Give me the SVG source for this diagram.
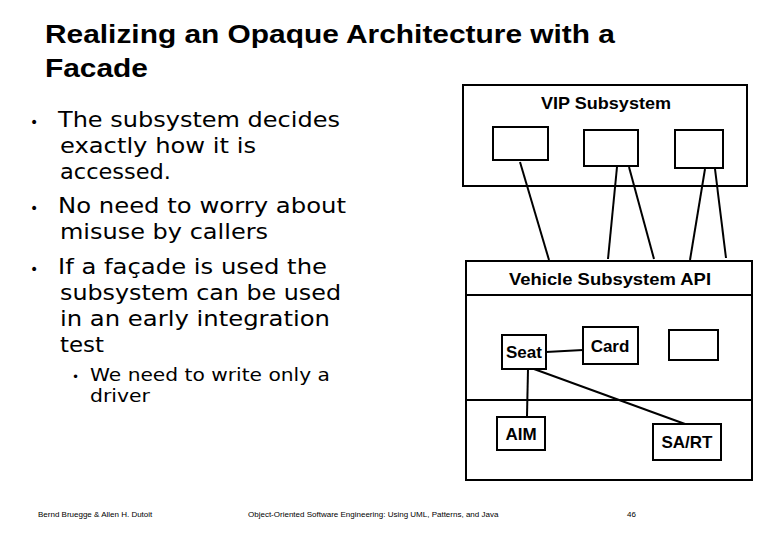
<svg xmlns="http://www.w3.org/2000/svg" width="780" height="540" viewBox="0 0 780 540">
<style>
.b{fill:#fff;stroke:#000;stroke-width:2}
.t{font-family:"Liberation Sans",Arial,sans-serif;font-weight:bold;font-size:17px;fill:#000}
.bl{font-family:"DejaVu Sans",Verdana,sans-serif;font-size:22px;fill:#000}
.f{font-family:"Liberation Sans",Arial,sans-serif;font-size:8px;fill:#000}
line{stroke:#000;stroke-width:2}
</style>
<rect width="780" height="540" fill="#fff"/>
<g id="title"><text font-family="Liberation Sans,Arial,sans-serif" font-weight="bold" font-size="25" x="45" y="43" textLength="570" lengthAdjust="spacingAndGlyphs">Realizing an Opaque Architecture with a</text><text font-family="Liberation Sans,Arial,sans-serif" font-weight="bold" font-size="25" x="45" y="77" textLength="103" lengthAdjust="spacingAndGlyphs">Facade</text></g>
<g id="bullets" class="bl" lengthAdjust="spacingAndGlyphs">
<text x="30" y="127" font-size="14">•</text><text x="58" y="127" textLength="282" lengthAdjust="spacingAndGlyphs">The subsystem decides</text>
<text x="60" y="153" textLength="196" lengthAdjust="spacingAndGlyphs">exactly how it is</text>
<text x="60" y="179" textLength="111" lengthAdjust="spacingAndGlyphs">accessed.</text>
<text x="30" y="213" font-size="14">•</text><text x="58" y="213" textLength="288" lengthAdjust="spacingAndGlyphs">No need to worry about</text>
<text x="60" y="239" textLength="208" lengthAdjust="spacingAndGlyphs">misuse by callers</text>
<text x="30" y="274" font-size="14">•</text><text x="58" y="274" textLength="269" lengthAdjust="spacingAndGlyphs">If a façade is used the</text>
<text x="60" y="300" textLength="281" lengthAdjust="spacingAndGlyphs">subsystem can be used</text>
<text x="60" y="326" textLength="270" lengthAdjust="spacingAndGlyphs">in an early integration</text>
<text x="60" y="352" textLength="44" lengthAdjust="spacingAndGlyphs">test</text>
<text x="72" y="381" font-size="12">•</text><text x="90" y="381" font-size="18" textLength="240" lengthAdjust="spacingAndGlyphs">We need to write only a</text>
<text x="90" y="402" font-size="18" textLength="60" lengthAdjust="spacingAndGlyphs">driver</text>
</g>
<g id="vip"><rect class="b" x="463" y="85" width="284" height="101"/><text class="t" x="541" y="109" textLength="130" lengthAdjust="spacingAndGlyphs">VIP Subsystem</text></g>
<g id="v1"><rect class="b" x="493" y="127" width="55" height="33"/></g>
<g id="v2"><rect class="b" x="584" y="130" width="54" height="36"/></g>
<g id="v3"><rect class="b" x="675" y="130" width="48" height="38"/></g>
<g id="api"><rect class="b" x="466" y="261" width="286" height="219"/><line x1="466" y1="295" x2="752" y2="295"/><line x1="466" y1="400" x2="752" y2="400"/><text class="t" x="509" y="285" textLength="202" lengthAdjust="spacingAndGlyphs">Vehicle  Subsystem API</text></g>
<g id="seat"><rect class="b" x="502" y="335" width="44" height="34"/><text class="t" x="524" y="358" text-anchor="middle">Seat</text></g>
<g id="card"><rect class="b" x="583" y="327" width="55" height="37"/><text class="t" x="610" y="352" text-anchor="middle">Card</text></g>
<g id="empty"><rect class="b" x="669" y="330" width="49" height="30"/></g>
<g id="aim"><rect class="b" x="497" y="417" width="48" height="33"/><text class="t" x="521" y="440" text-anchor="middle">AIM</text></g>
<g id="sart"><rect class="b" x="653" y="424" width="68" height="36"/><text class="t" x="687" y="448" text-anchor="middle">SA/RT</text></g>
<g id="connectors">
<line x1="520" y1="162" x2="549" y2="260"/>
<line x1="617" y1="167" x2="608" y2="259"/>
<line x1="629" y1="167" x2="654" y2="259"/>
<line x1="705" y1="169" x2="690" y2="260"/>
<line x1="715" y1="169" x2="726" y2="258"/>
<line x1="546" y1="352" x2="583" y2="350"/>
<line x1="528" y1="369" x2="527" y2="416"/>
<line x1="534" y1="369" x2="685" y2="424"/>
</g>
<g id="footer" class="f"><text x="38" y="517">Bernd Bruegge &amp; Allen H. Dutoit</text><text x="248" y="517">Object-Oriented Software Engineering: Using UML, Patterns, and Java</text><text x="627" y="517">46</text></g>
</svg>
